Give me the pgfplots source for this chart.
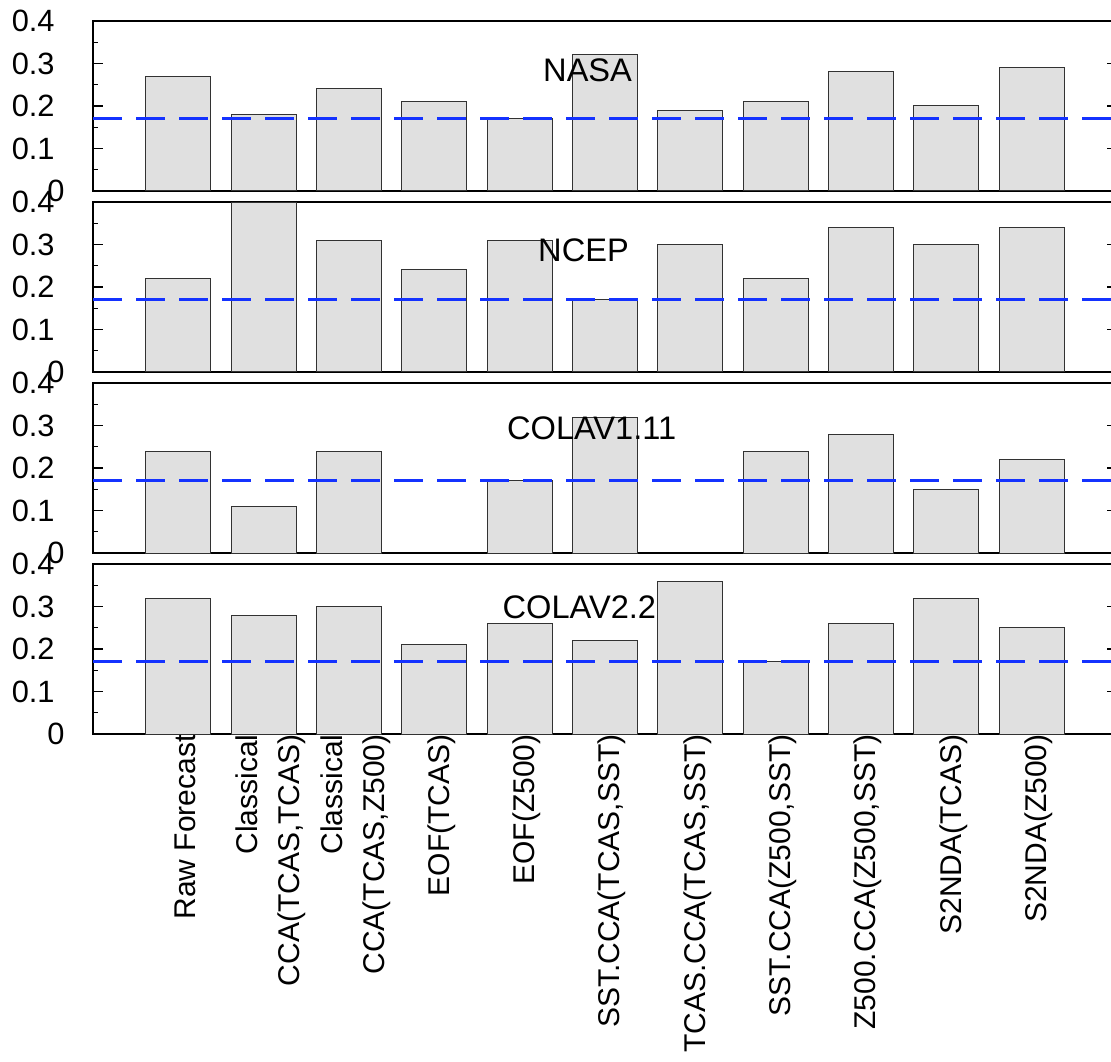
\documentclass[border=0pt]{standalone}
\usepackage{pgfplots}
\pgfplotsset{compat=1.18}
\usepackage{fontspec}
\setmainfont{Liberation Sans}
\definecolor{barfill}{RGB}{224,224,224}
\definecolor{baredge}{RGB}{50,50,50}
\definecolor{refblue}{RGB}{20,50,255}
\tikzset{ttl/.style={font=\fontsize{16.3}{19}\selectfont, inner sep=0pt}}
\pgfplotsset{
  panel/.style={
    scale only axis,
    width=512pt, height=85pt,
    anchor=south west,
    xmin=-1, xmax=11,
    ymin=0, ymax=0.4,
    ytick={0,0.1,0.2,0.3,0.4},
    yticklabels={{0\kern-5pt},0.1,0.2,0.3,0.4},
    minor y tick num=1,
    major tick length=5pt,
    minor tick length=2.5pt,
    tick style={black, line width=0.6pt},
    axis line style={black, line width=1pt},
    yticklabel style={font=\fontsize{15.4}{18}\selectfont, anchor=east, inner sep=0pt, xshift=-19pt},
    xtick=\empty,
    clip=true,
  },
  bars/.style={ybar, bar width=0.76, fill=barfill, draw=baredge, line width=0.5pt},
  refline/.style={refblue, line width=1.6pt, dash pattern=on 14.25pt off 7.25pt},
}
\begin{document}
\begin{tikzpicture}
% Panel 1: NASA
\begin{axis}[panel, at={(46.5pt,435pt)}]
\addplot[bars] coordinates {(0,0.27) (1,0.18) (2,0.24) (3,0.21) (4,0.17) (5,0.32) (6,0.19) (7,0.21) (8,0.28) (9,0.20) (10,0.29)};
\addplot[refline] coordinates {(-1,0.17) (11,0.17)};
\node[ttl] at (rel axis cs:0.483,0.71) {NASA};
\end{axis}
% Panel 2: NCEP
\begin{axis}[panel, at={(46.5pt,344.5pt)}]
\addplot[bars] coordinates {(0,0.22) (1,0.40) (2,0.31) (3,0.24) (4,0.31) (5,0.17) (6,0.30) (7,0.22) (8,0.34) (9,0.30) (10,0.34)};
\addplot[refline] coordinates {(-1,0.17) (11,0.17)};
\node[ttl] at (rel axis cs:0.479,0.718) {NCEP};
\end{axis}
% Panel 3: COLAV1.11
\begin{axis}[panel, at={(46.5pt,254pt)}]
\addplot[bars] coordinates {(0,0.24) (1,0.11) (2,0.24) (4,0.17) (5,0.32) (7,0.24) (8,0.28) (9,0.15) (10,0.22)};
\addplot[refline] coordinates {(-1,0.17) (11,0.17)};
\node[ttl] at (rel axis cs:0.487,0.735) {COLAV1.11};
\end{axis}
% Panel 4: COLAV2.2
\begin{axis}[panel, at={(46.5pt,163.5pt)},
  xtick={0,1,2,3,4,5,6,7,8,9,10},
  xticklabels={{Raw Forecast}, {Classical\\CCA(TCAS,TCAS)}, {Classical\\CCA(TCAS,Z500)}, {EOF(TCAS)}, {EOF(Z500)}, {SST.CCA(TCAS,SST)}, {TCAS.CCA(TCAS,SST)}, {SST.CCA(Z500,SST)}, {Z500.CCA(Z500,SST)}, {S2NDA(TCAS)}, {S2NDA(Z500)}},
  x tick style={draw=none},
  xticklabel style={font=\fontsize{15}{21}\selectfont, rotate=90, anchor=east, align=right, inner sep=0pt, yshift=-3.5pt},
]
\addplot[bars] coordinates {(0,0.32) (1,0.28) (2,0.30) (3,0.21) (4,0.26) (5,0.22) (6,0.36) (7,0.17) (8,0.26) (9,0.32) (10,0.25)};
\addplot[refline] coordinates {(-1,0.17) (11,0.17)};
\node[ttl] at (rel axis cs:0.475,0.747) {COLAV2.2};
\end{axis}
\pgfresetboundingbox
\path[use as bounding box] (0,0) rectangle (555.5pt,530.5pt);
\end{tikzpicture}
\end{document}
